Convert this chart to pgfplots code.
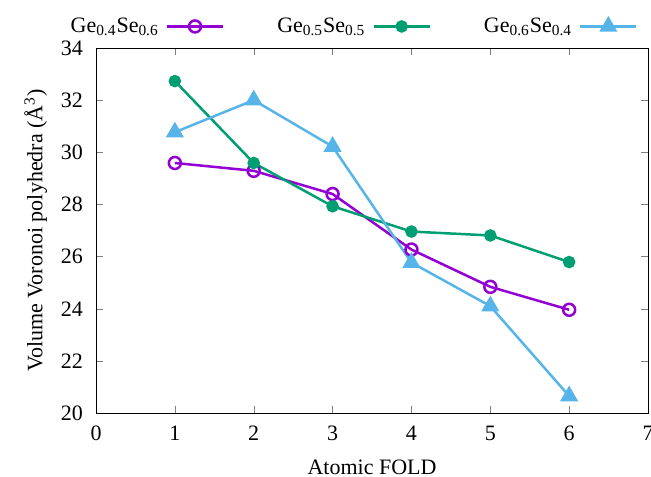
\documentclass[border=0pt]{standalone}
\usepackage{fontspec}
\setmainfont{Liberation Serif}
\usepackage{pgfplots}
\pgfplotsset{compat=1.18}
\definecolor{cpurple}{HTML}{9400D3}
\definecolor{cgreen}{HTML}{009E73}
\definecolor{cblue}{HTML}{56B4E9}
\begin{document}
\begin{tikzpicture}
\begin{axis}[
  name=ax,
  scale only axis, width=276pt, height=182.5pt,
  xmin=0, xmax=7, ymin=20, ymax=34,
  xtick={0,1,...,7}, ytick={20,22,...,34},
  tick align=inside, major tick length=3.5pt,
  /pgf/number format/assume math mode=true,
  tick label style={font=\fontsize{11}{13}\selectfont},
  label style={font=\fontsize{11}{13}\selectfont},
  xticklabel style={yshift=-3pt},
  yticklabel style={xshift=-3pt},
  xlabel={Atomic FOLD},
  ylabel={Volume Voronoi polyhedra (Å\textsuperscript{3})},
  xlabel style={yshift=-2.5pt},
  ylabel style={yshift=0pt},
  legend columns=3,
  legend plot pos=right,
  legend style={draw=none, fill=none, font=\fontsize{11}{13}\selectfont,
    at={(1,1.012)}, anchor=south east, xshift=-2pt,
    /tikz/every odd column/.append style={column sep=1.5pt},
    /tikz/every even column/.append style={column sep=24.5pt}},
  legend image code/.code={\draw[mark repeat=2,mark phase=2] plot coordinates {(0pt,0pt) (14pt,0pt) (28pt,0pt)};},
]
\addplot[cpurple, line width=1.25pt, mark=o, mark size=3pt, mark options={line width=1.25pt}]
  coordinates {(1,29.59) (2,29.29) (3,28.40) (4,26.27) (5,24.84) (6,23.96)};
\addlegendentry{Ge\textsubscript{0.4}Se\textsubscript{0.6}}
\addplot[cgreen, line width=1.25pt, mark=*, mark size=2.5pt]
  coordinates {(1,32.73) (2,29.59) (3,27.93) (4,26.96) (5,26.81) (6,25.79)};
\addlegendentry{Ge\textsubscript{0.5}Se\textsubscript{0.5}}
\addplot[cblue, line width=1.25pt, mark=triangle*, mark size=4pt]
  coordinates {(1,30.77) (2,32.00) (3,30.22) (4,25.77) (5,24.10) (6,20.65)};
\addlegendentry{Ge\textsubscript{0.6}Se\textsubscript{0.4}}
\end{axis}
\pgfresetboundingbox
\path (ax.south west) ++(-48pt,-31.5pt) coordinate (BL);
\path (ax.north east) ++(1.5pt,24pt) coordinate (TR);
\path[use as bounding box] (BL) rectangle (TR);
\end{tikzpicture}
\end{document}
